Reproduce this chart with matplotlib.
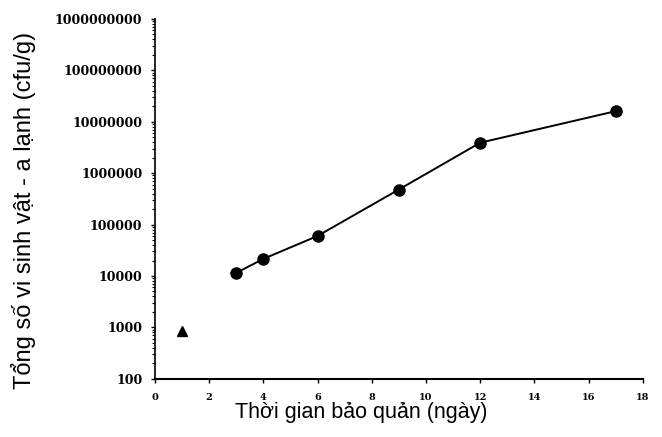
import numpy as np
import matplotlib.pyplot as plt
from matplotlib.ticker import LogLocator, FixedLocator, NullFormatter

# du lieu doc tu hinh
ngay = [3, 4, 6, 9, 12, 17]
vsv = [11500, 21500, 60000, 480000, 3900000, 16000000]
ngay_dau = [1]
vsv_dau = [850]

y_ticks = [1e2, 1e3, 1e4, 1e5, 1e6, 1e7, 1e8, 1e9]
y_labels = ["100", "1000", "10000", "100000", "1000000", "10000000",
            "100000000", "1000000000"]
x_ticks = [0, 2, 4, 6, 8, 10, 12, 14, 16, 18]

fig = plt.figure(figsize=(6.62, 4.37), dpi=100)
ax = fig.add_axes([0.234, 0.133, 0.737, 0.824])

ax.plot(ngay, vsv, "k-", lw=1.4, marker="o", ms=8)
ax.plot(ngay_dau, vsv_dau, "k^", ms=7)

ax.set_yscale("log")
ax.set_ylim(100, 1e9)
ax.set_xlim(0, 18)
ax.yaxis.set_major_locator(FixedLocator(y_ticks))
ax.set_yticklabels(y_labels)
ax.yaxis.set_minor_locator(LogLocator(base=10, subs=np.arange(2, 10)))
ax.yaxis.set_minor_formatter(NullFormatter())
ax.set_xticks(x_ticks)
ax.set_xticklabels([str(t) for t in x_ticks])

for s in ["top", "right"]:
    ax.spines[s].set_visible(False)
ax.spines["left"].set_linewidth(1.2)
ax.spines["bottom"].set_linewidth(1.5)
ax.tick_params(axis="both", which="major", direction="out", length=3, width=1)
ax.tick_params(axis="y", which="minor", direction="out", length=2, width=0.8)
ax.tick_params(axis="x", pad=7)
ax.tick_params(axis="y", pad=6)
for lb in ax.get_yticklabels():
    lb.set_fontfamily("DejaVu Serif")
    lb.set_fontweight("bold")
    lb.set_fontsize(9)
for lb in ax.get_xticklabels():
    lb.set_fontfamily("DejaVu Serif")
    lb.set_fontweight("bold")
    lb.set_fontsize(7)

ax.set_xlabel("Thời gian bảo quản (ngày)", fontsize=15.5,
              fontfamily="Liberation Sans")
ax.xaxis.set_label_coords(0.422, -0.064)
ax.set_ylabel("Tổng số vi sinh vật - a lạnh (cfu/g)", fontsize=17,
              fontfamily="Liberation Sans")
ax.yaxis.set_label_coords(-0.244, 0.469)

fig.savefig("out.png", dpi=100)
